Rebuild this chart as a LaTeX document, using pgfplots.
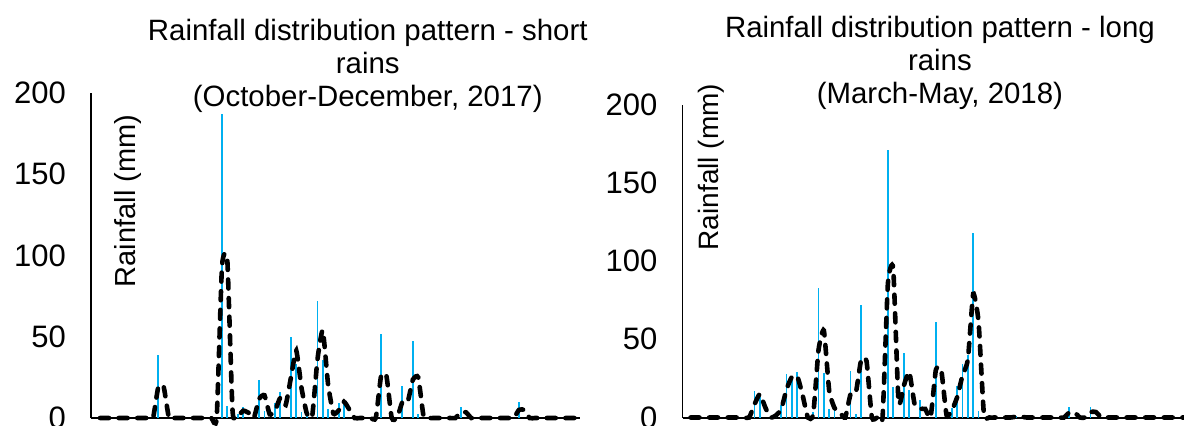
\documentclass[border=0pt]{standalone}
\usepackage{fontspec}
\setmainfont{Liberation Sans}
\usepackage{pgfplots}
\pgfplotsset{compat=1.18}
\definecolor{rainblue}{RGB}{0,176,240}
\begin{document}
\begin{tikzpicture}
\useasboundingbox (0,0) rectangle (592pt,212.5pt);
\pgfplotsset{
  rainax/.style={
    scale only axis,
    anchor=south west,
    axis x line=bottom,
    axis y line=left,
    x axis line style={line width=1pt,-},
    y axis line style={line width=0.6pt,-},
    xtick=\empty,
    ymin=0, ymax=200,
    ytick={0,50,100,150,200},
    major tick length=0pt,
    /pgf/number format/assume math mode=true,
    yticklabel style={font=\fontsize{15.5}{18}\selectfont, xshift=-9pt},
    clip=false,
  },
  barsty/.style={ycomb, color=rainblue, line width=0.9pt, mark=none},
  mastyle/.style={black, line width=2.3pt, smooth, tension=0.3, mark=none, line cap=round, dash pattern=on 4.5pt off 4.8pt},
}
% ---------------- Left panel: short rains ----------------
\begin{axis}[rainax,
  at={(45.5pt,3.5pt)}, width=244.5pt, height=162.5pt,
  xmin=0.3, xmax=92.5,
  title={Rainfall distribution pattern - short\\rains\\(October-December, 2017)},
  title style={at={(rel axis cs:0.566,1.046)}, anchor=center, align=center,
    font=\fontsize{14.7}{16.5}\selectfont},
  ylabel={Rainfall (mm)},
  ylabel style={at={(rel axis cs:0.0757,0.668)}, anchor=center, rotate=0,
    font=\fontsize{14.5}{17}\selectfont},
]
\addplot[barsty] coordinates {
(13,38.5)(25,187)(26,7.5)(28,2.5)(29,6.5)(32,23.5)(33,4.5)(35,9)(36,16)
(38,50)(39,33)(40,3.5)(41,2)(43,72)(44,36)(45,5.5)(47,9.5)(48,10.5)
(55,52)(59,19.5)(61,47.5)(62,2.5)(70,7)(81,10)
};
\addplot[mastyle] coordinates {
(2,0)(3,0)(4,0)(5,0)(6,0)(7,0)(8,0)(9,0)(10,0)(11,0)(12,0)
(13,19.25)(14,19.25)(15,0)(16,0)(17,0)(18,0)(19,0)(20,0)(21,0)(22,0)(23,0)(24,0)
(25,93.5)(26,97.25)(27,3.75)(28,1.25)(29,4.5)(30,3.25)(31,0)(32,11.75)(33,14)
(34,2.25)(35,4.5)(36,12.5)(37,8)(38,25)(39,41.5)(40,18.25)(41,2.75)(42,1)
(43,36)(44,54)(45,20.75)(46,2.75)(47,4.75)(48,10)(49,5.25)(50,0)(51,0)(52,0)
(53,0)(54,0)(55,26)(56,26)(57,0)(58,0)(59,9.75)(60,9.75)(61,23.75)(62,25)
(63,1.25)(64,0)(65,0)(66,0)(67,0)(68,0)(69,0)(70,3.5)(71,3.5)(72,0)(73,0)
(74,0)(75,0)(76,0)(77,0)(78,0)(79,0)(80,0)(81,5)(82,5)(83,0)(84,0)(85,0)
(86,0)(87,0)(88,0)(89,0)(90,0)(91,0)(92,0)
};
\end{axis}
% ---------------- Right panel: long rains ----------------
\begin{axis}[rainax,
  at={(341.25pt,3.75pt)}, width=253.4pt, height=156.5pt,
  xmin=0.5, xmax=95.5,
  title={Rainfall distribution pattern - long\\rains\\(March-May, 2018)},
  title style={at={(rel axis cs:0.508,1.094)}, anchor=center, align=center,
    font=\fontsize{14.7}{16.5}\selectfont},
  ylabel={Rainfall (mm)},
  ylabel style={at={(rel axis cs:0.056,0.80)}, anchor=center, rotate=0,
    font=\fontsize{14}{17}\selectfont},
]
\addplot[barsty] coordinates {
(14,16.8)(15,13.2)(18,2.6)(19,7.9)(20,28)(21,24)(22,29)(25,3.6)(26,82.7)
(27,28.5)(28,5.7)(29,6.4)(32,29.8)(33,2.1)(34,72)(39,171)(40,19.6)(42,41)
(43,17.4)(45,11)(48,61)(50,3)(51,6.3)(52,20)(53,34)(54,40)(55,118)(56,4.2)
(63,1)(73,6.4)(77,7)
};
\addplot[mastyle] coordinates {
(2,0)(3,0)(4,0)(5,0)(6,0)(7,0)(8,0)(9,0)(10,0)(11,0)(12,0)(13,0)
(14,8.4)(15,15)(16,6.6)(17,0)(18,1.3)(19,5.25)(20,17.95)(21,26)(22,26.5)
(23,14.5)(24,0)(25,1.8)(26,43.15)(27,55.6)(28,17.1)(29,6.05)(30,3.2)(31,0)
(32,14.9)(33,15.95)(34,37.05)(35,36)(36,0)(37,0)(38,0)(39,85.5)(40,95.3)
(41,9.8)(42,20.5)(43,29.2)(44,8.7)(45,5.5)(46,5.5)(47,0)(48,30.5)(49,30.5)
(50,1.5)(51,4.65)(52,13.15)(53,27)(54,37)(55,79)(56,61.1)(57,2.1)(58,0)
(59,0)(60,0)(61,0)(62,0)(63,0.5)(64,0.5)(65,0)(66,0)(67,0)(68,0)(69,0)
(70,0)(71,0)(72,0)(73,3.2)(74,3.2)(75,0)(76,0)(77,3.5)(78,3.5)(79,0)(80,0)
(81,0)(82,0)(83,0)(84,0)(85,0)(86,0)(87,0)(88,0)(89,0)(90,0)(91,0)(92,0)
(93,0)(94,0)(95,0)
};
\end{axis}
\end{tikzpicture}
\end{document}
